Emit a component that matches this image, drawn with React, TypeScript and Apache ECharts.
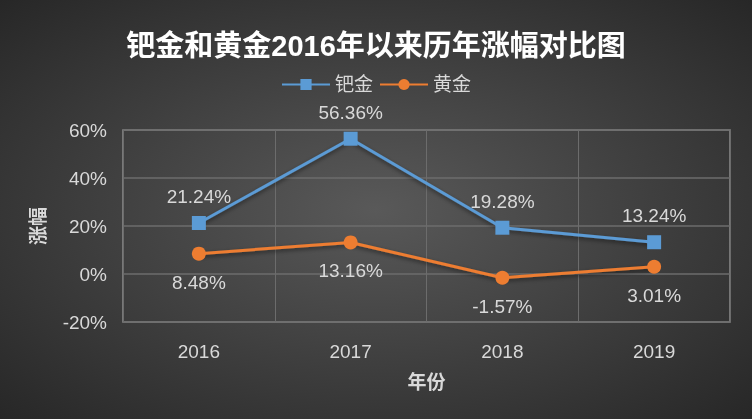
import React, { useEffect, useRef } from "react";
import * as echarts from "echarts";

const years = ["2016", "2017", "2018", "2019"];
const palladium = [21.24, 56.36, 19.28, 13.24];
const gold = [8.48, 13.16, -1.57, 3.01];
const titleText = "钯金和黄金2016年以来历年涨幅对比图";

const FONT = "'Liberation Sans', 'Noto Sans CJK SC', sans-serif";
const TXT = "#d9d9d9";

export default function App() {
  const ref = useRef<HTMLDivElement>(null);
  useEffect(() => {
    if (!ref.current) return;
    const chart = echarts.init(ref.current, null, { renderer: "svg" });
    chart.setOption({
      animation: false,
      backgroundColor: new echarts.graphic.RadialGradient(0.5, 0.5, 0.75, [
        { offset: 0, color: "#595959" },
        { offset: 1, color: "#242424" },
      ]),
      textStyle: { fontFamily: FONT },
      title: {
        text: titleText,
        left: "center",
        top: 26,
        textStyle: { color: "#ffffff", fontSize: 29, fontWeight: "bold", fontFamily: FONT },
      },
      legend: {
        top: 70,
        left: "center",
        itemWidth: 48,
        itemHeight: 14,
        itemGap: 6,
        textStyle: { color: TXT, fontSize: 19, fontFamily: FONT },
        data: ["钯金", "黄金"],
      },
      grid: {
        left: 123,
        right: 22,
        top: 130,
        bottom: 97,
        show: true,
        borderColor: "#8c8c8c",
        borderWidth: 1.5,
      },
      xAxis: {
        type: "category",
        data: years,
        boundaryGap: true,
        name: "年份",
        nameLocation: "middle",
        nameGap: 51,
        nameTextStyle: { color: TXT, fontSize: 19, fontWeight: "bold", fontFamily: FONT },
        axisLine: { show: false },
        axisTick: { show: false },
        axisLabel: { color: TXT, fontSize: 19, margin: 20, fontFamily: FONT },
        splitLine: { show: true, interval: 0, lineStyle: { color: "#6c6c6c", width: 1 } },
      },
      yAxis: {
        type: "value",
        min: -20,
        max: 60,
        interval: 20,
        name: "涨幅",
        nameLocation: "middle",
        nameGap: 75,
        nameRotate: 90,
        nameTextStyle: { color: TXT, fontSize: 19, fontWeight: "bold", fontFamily: FONT },
        axisLine: { show: false },
        axisTick: { show: false },
        axisLabel: { color: TXT, fontSize: 19, margin: 16, formatter: "{value}%", fontFamily: FONT },
        splitLine: { lineStyle: { color: "#6c6c6c", width: 1.5 } },
      },
      series: [
        {
          name: "钯金",
          type: "line",
          data: palladium,
          symbol: "rect",
          symbolSize: 14,
          itemStyle: { color: "#5b9bd5" },
          lineStyle: { width: 3, color: "#5b9bd5", shadowColor: "rgba(0,0,0,0.5)", shadowBlur: 4, shadowOffsetY: 2 },
          label: {
            show: true,
            position: "top",
            distance: 10,
            color: TXT,
            fontSize: 19,
            fontFamily: FONT,
            formatter: (p: any) => p.value.toFixed(2) + "%",
          },
        },
        {
          name: "黄金",
          type: "line",
          data: gold,
          symbol: "circle",
          symbolSize: 14,
          itemStyle: { color: "#ed7d31" },
          lineStyle: { width: 3, color: "#ed7d31", shadowColor: "rgba(0,0,0,0.5)", shadowBlur: 4, shadowOffsetY: 2 },
          label: {
            show: true,
            position: "bottom",
            distance: 12,
            color: TXT,
            fontSize: 19,
            fontFamily: FONT,
            formatter: (p: any) => p.value.toFixed(2) + "%",
          },
        },
      ],
    });
    return () => chart.dispose();
  }, []);
  return (
    <div
      ref={ref}
      style={{ position: "fixed", left: 0, top: 0, width: 752, height: 419 }}
    />
  );
}
